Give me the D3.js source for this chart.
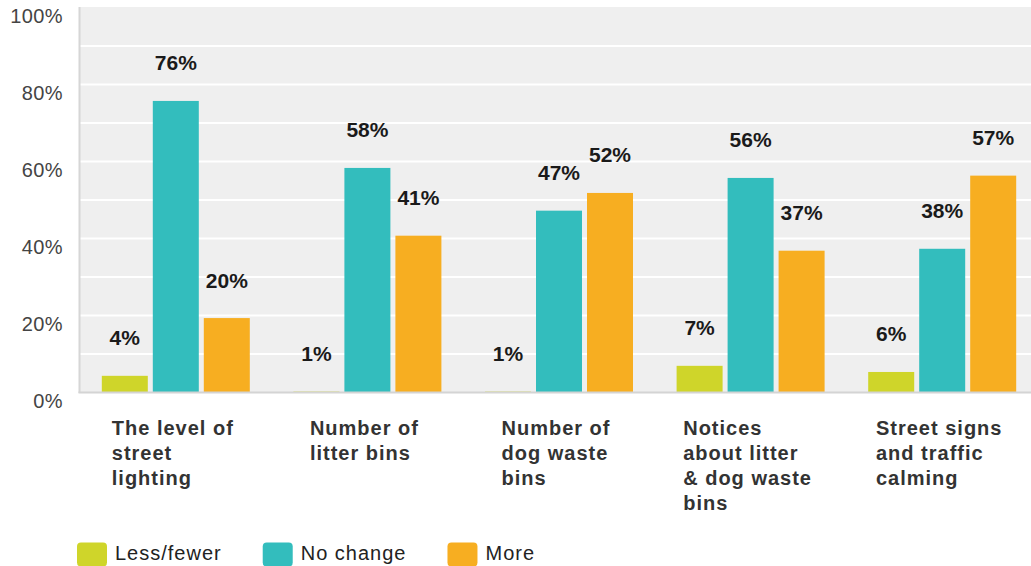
<!DOCTYPE html>
<html>
<head>
<meta charset="utf-8">
<script src="https://cdn.jsdelivr.net/npm/d3@7"></script>
<style>
  html, body { margin: 0; padding: 0; background: #fff; }
  svg { display: block; font-family: "Liberation Sans", Arial, sans-serif; }
</style>
</head>
<body>
<svg id="chart" width="1031" height="566"></svg>
<script>
// ---- data ----
const categories = [
  "The level of street lighting",
  "Number of litter bins",
  "Number of dog waste bins",
  "Notices about litter & dog waste bins",
  "Street signs and traffic calming"
];
const categoryLines = [
  ["The level of", "street", "lighting"],
  ["Number of", "litter bins"],
  ["Number of", "dog waste", "bins"],
  ["Notices", "about litter", "& dog waste", "bins"],
  ["Street signs", "and traffic", "calming"]
];
const seriesNames = ["Less/fewer", "No change", "More"];
const lessValues = [4.2, 0.1, 0.1, 6.8, 5.2];
const noChangeValues = [75.6, 58.2, 47.1, 55.6, 37.2];
const moreValues = [19.2, 40.6, 51.7, 36.7, 56.2];
const lessLabels = ["4%", "1%", "1%", "7%", "6%"];
const noChangeLabels = ["76%", "58%", "47%", "56%", "38%"];
const moreLabels = ["20%", "41%", "52%", "37%", "57%"];
const yTickValues = [0, 20, 40, 60, 80, 100];
const gridValues = [10, 20, 30, 40, 50, 60, 70, 80, 90];
const colors = ["#cfd52a", "#33bdbd", "#f7ae21"];

// ---- layout ----
const svg = d3.select("#chart");
const plot = { left: 80, right: 1038, top: 7, bottom: 392 };

const y = d3.scaleLinear().domain([0, 100]).range([plot.bottom, plot.top]);
const x0 = d3.scaleBand().domain(categories).range([plot.left, plot.right]).paddingInner(0).paddingOuter(0);
const x1 = d3.scaleBand().domain(seriesNames).range([0, x0.bandwidth()]).paddingInner(0.098).paddingOuter(0.4275);
const color = d3.scaleOrdinal().domain(seriesNames).range(colors);

const seriesValues = [lessValues, noChangeValues, moreValues];
const seriesLabels = [lessLabels, noChangeLabels, moreLabels];
const rows = [];
categories.forEach((c, i) => {
  seriesNames.forEach((s, j) => {
    rows.push({ cat: c, series: s, value: seriesValues[j][i], label: seriesLabels[j][i] });
  });
});

// plot background
svg.append("rect")
  .attr("x", plot.left).attr("y", plot.top)
  .attr("width", plot.right - plot.left).attr("height", plot.bottom - plot.top)
  .attr("fill", "#efefef");

// gridlines
const grid = svg.append("g")
  .attr("transform", `translate(${plot.left},0)`)
  .call(d3.axisLeft(y).tickValues(gridValues).tickSize(-(plot.right - plot.left)).tickFormat(""));
grid.select(".domain").remove();
grid.selectAll("line").attr("stroke", "#ffffff").attr("stroke-width", 2);

// axis lines
svg.append("line")
  .attr("x1", plot.left - 0.5).attr("x2", plot.left - 0.5)
  .attr("y1", plot.top).attr("y2", plot.bottom + 1)
  .attr("stroke", "#d6d6d6").attr("stroke-width", 2);

// bars
svg.append("g").selectAll("rect").data(rows).join("rect")
  .attr("x", d => x0(d.cat) + x1(d.series))
  .attr("y", d => y(d.value))
  .attr("width", x1.bandwidth())
  .attr("height", d => y(0) - y(d.value))
  .attr("fill", d => color(d.series));

svg.append("line")
  .attr("x1", plot.left - 1.5).attr("x2", plot.right)
  .attr("y1", plot.bottom + 0.5).attr("y2", plot.bottom + 0.5)
  .attr("stroke", "#d4d4d4").attr("stroke-width", 2);

// value labels
svg.append("g").selectAll("text").data(rows).join("text")
  .attr("x", d => x0(d.cat) + x1(d.series) + x1.bandwidth() / 2)
  .attr("y", d => y(d.value) - 30.5)
  .attr("text-anchor", "middle")
  .attr("font-size", 21)
  .attr("font-weight", "bold")
  .attr("fill", "#1a1a1a")
  .text(d => d.label);

// y axis labels
const yAxis = svg.append("g")
  .attr("transform", `translate(${plot.left},0)`)
  .call(d3.axisLeft(y).tickValues(yTickValues).tickSize(0).tickPadding(17).tickFormat(d => d + "%"));
yAxis.select(".domain").remove();
yAxis.selectAll("text")
  .attr("font-family", "Liberation Sans, Arial, sans-serif")
  .attr("font-size", 20)
  .attr("letter-spacing", 0.4)
  .attr("fill", "#444")
  .attr("dy", "0.75em");

// category labels
categories.forEach((c, i) => {
  const t = svg.append("text")
    .attr("font-size", 20)
    .attr("font-weight", "bold")
    .attr("letter-spacing", 1)
    .attr("fill", "#333");
  categoryLines[i].forEach((line, k) => {
    t.append("tspan").attr("x", 0).attr("y", 435 + k * 25).text(line);
  });
  let maxW = 0;
  t.selectAll("tspan").each(function () { maxW = Math.max(maxW, this.getComputedTextLength()); });
  const cx = x0(c) + x0.bandwidth() / 2 - 3;
  const left = cx - maxW / 2;
  t.selectAll("tspan").attr("x", left);
});

// legend
const legend = svg.append("g");
let lx = 77;
seriesNames.forEach((s, j) => {
  legend.append("rect")
    .attr("x", lx).attr("y", 542.5)
    .attr("width", 30).attr("height", 24)
    .attr("rx", 4).attr("ry", 4)
    .attr("fill", color(s));
  const txt = legend.append("text")
    .attr("x", lx + 38).attr("y", 559.5)
    .attr("font-size", 20)
    .attr("letter-spacing", 1)
    .attr("fill", "#222")
    .text(s);
  const w = txt.node().getComputedTextLength();
  lx = lx + 38 + w + 41;
});
</script>
</body>
</html>
